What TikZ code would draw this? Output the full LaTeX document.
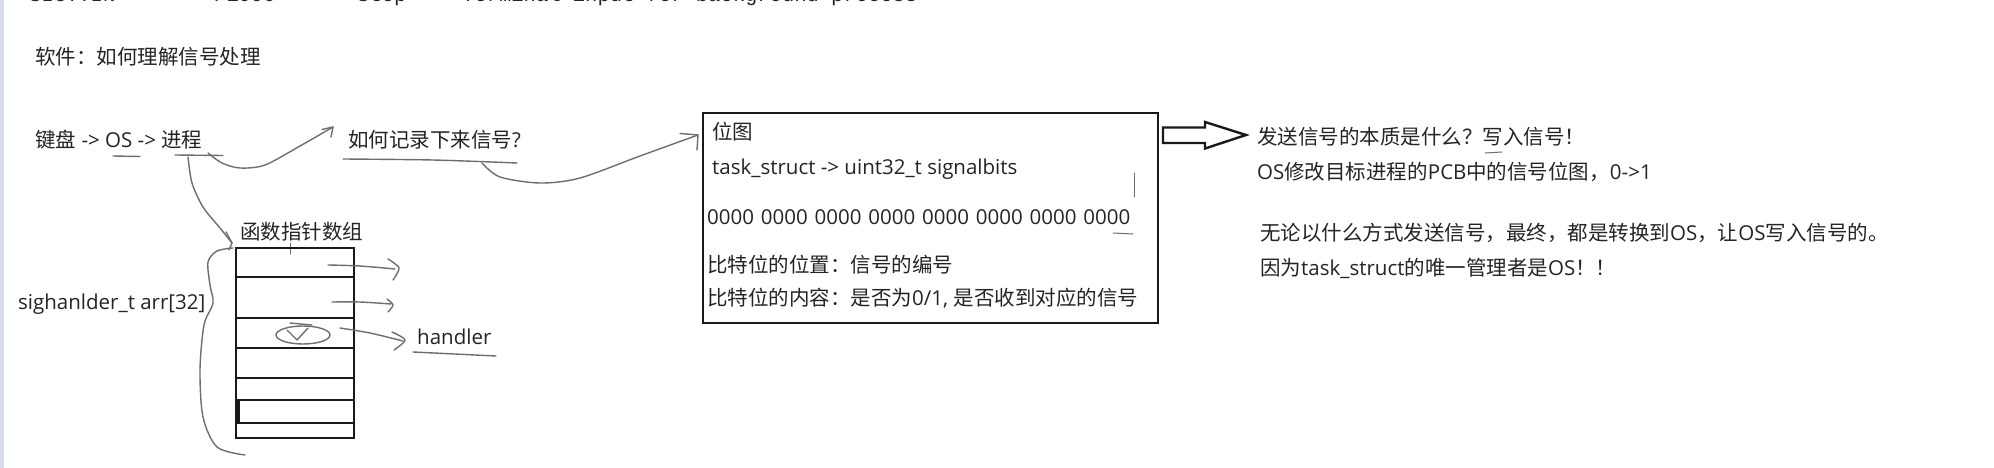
\documentclass[tikz,border=0pt]{standalone}
\usepackage{fontspec}
\setmainfont{Open Sans}
\setmonofont{Liberation Mono}
\newfontfamily\cjk{Noto Sans CJK SC}
\definecolor{textc}{RGB}{36,36,36}
\definecolor{handc}{RGB}{110,110,110}
\definecolor{framec}{RGB}{25,25,25}
\definecolor{stripc}{RGB}{214,220,238}
\begin{document}
\begin{tikzpicture}[x=1pt,y=-1pt,
  txt/.style={anchor=base west, inner sep=0pt, text=textc, font=\fontsize{20.5}{24}\selectfont},
  mono/.style={anchor=base west, inner sep=0pt, text=textc, font=\ttfamily\fontsize{20.5}{24}\selectfont},
  hand/.style={draw=handc, line width=1.4pt, line cap=round, line join=round},
  frame/.style={draw=framec, line width=2.4pt},
  thin/.style={draw=handc, line width=1pt, line cap=round}]
\useasboundingbox (0,0) rectangle (1994,468);
\fill[white] (0,0) rectangle (1994,468);
\fill[stripc] (0,0) rectangle (4,468);
\begin{scope}
\clip (0,0) rectangle (1994,468);
\node[mono] (t1) at (29,2) {SIGTTIN};
\node[mono] (t2) at (214,2) {P1990};
\node[mono] (t3) at (357,2) {Stop};
\node[mono] (t4) at (462,2) {Terminal input for background process};
\end{scope}

% heading
\node[txt] (title) at (35,64.5) {{\cjk 软件：如何理解信号处理}};

% first line
\node[txt] (kbd) at (35,147.5) {{\cjk 键盘} -> OS -> {\cjk 进程}};
\node[txt] (rec) at (348,147.5) {{\cjk 如何记录下来信号}?};
\draw[hand] (113,156) -- (140,156.5);
\draw[hand] (175,155) -- (223,155.5);
\draw[hand] plot[smooth] coordinates {(343,159) (433,160) (517,163)};

% arrow kbd -> rec
\coordinate (a1s) at (208,153);
\coordinate (a1e) at (333,127);
\draw[hand] plot[smooth] coordinates {(a1s) (222,163) (240,168) (265,165) (300,146) (a1e)};
\draw[hand] (322,129.5) -- (a1e) -- (331,137);

% arrow rec -> box
\coordinate (a2s) at (482,163);
\coordinate (a2e) at (698,135);
\draw[hand] plot[smooth] coordinates {(a2s) (500,177) (540,183) (580,178) (640,156) (a2e)};
\draw[hand] (680,133.5) -- (a2e) -- (697,150);

% bitmap box
\node[frame, draw, rectangle, minimum width=455pt, minimum height=210pt, inner sep=0pt, anchor=north west] (box) at (702,112) {};
\node[txt] (b1) at (712,139.5) {{\cjk 位图}};
\node[txt] (b2) at (712,174.5) {task\_struct -> uint32\_t signalbits};
\node[txt] (b3) at (707,224.5) {0000\,\,0000\,\,0000\,\,0000\,\,0000\,\,0000\,\,0000\,\,0000};
\node[txt] (b4) at (707,272.5) {{\cjk 比特位的位置：信号的编号}};
\node[txt] (b5) at (707,305.5) {{\cjk 比特位的内容：是否为}0/1, {\cjk 是否收到对应的信号}};
\draw[thin] (1134,173) -- (1134,197);
\draw[thin] (1113,233) -- (1133,234);

% hollow arrow
\draw[frame, line join=miter] (1163,127.5) -- (1205,127.5) -- (1205,122) -- (1246,135) -- (1205,148.5) -- (1205,143) -- (1163,143) -- cycle;

% right text
\node[txt] (r1) at (1257,144.5) {{\cjk 发送信号的本质是什么？写入信号！}};
\draw[thin] (1485,153) -- (1502,152);
\node[txt] (r2) at (1257,179.5) {OS{\cjk 修改目标进程的}PCB{\cjk 中的信号位图，}0->1};
\node[txt] (r3) at (1260,240.5) {{\cjk 无论以什么方式发送信号，最终，都是转换到}OS{\cjk ，让}OS{\cjk 写入信号的。}};
\node[txt] (r4) at (1260,275.5) {{\cjk 因为}task\_struct{\cjk 的唯一管理者是}OS{\cjk ！！}};

% function pointer array
\node[txt] (fa) at (240,239.5) {{\cjk 函数指针数组}};
\draw[thin] (290,243) -- (290,254);
\draw[thin] (285,248) -- (295,248);
\node[frame, draw, rectangle, minimum width=118pt, minimum height=190pt, inner sep=0pt, anchor=north west] (arr) at (235,247) {};
\foreach \yy in {277,318,348,378,400,423}
  \draw[frame] (235,\yy) -- (353,\yy);
\draw[framec, line width=3.5pt] (238,401) -- (238,422);
\node[txt] (sig) at (18,309.5) {sighanlder\_t arr[32]};

% line from process to array
\coordinate (a3s) at (188,157);
\coordinate (a3e) at (232,243);
\draw[hand] plot[smooth] coordinates {(a3s) (192,183) (203,207) (220,228) (a3e)};
\draw[hand] (226,232) -- (a3e) -- (229,250);

% brace
\draw[hand] plot[smooth] coordinates {(233,248) (217,251) (208,262) (210,285) (213,303) (204,325) (200,370) (203,417) (217,447) (245,455)};

% row arrows
\draw[hand] plot[smooth] coordinates {(328,265) (360,266) (395,269)};
\draw[hand] plot[smooth] coordinates {(388,259) (399,268) (393,280)};
\draw[hand] plot[smooth] coordinates {(332,302) (360,302) (391,304)};
\draw[hand] plot[smooth] coordinates {(387,299) (393,305) (388,312)};
\draw[hand] plot[smooth] coordinates {(340,328) (370,333) (403,341)};
\draw[hand] plot[smooth] coordinates {(392,332) (405,340) (394,350)};

% oval mark
\draw[hand] (303,335) ellipse [x radius=27, y radius=9];
\draw[hand] (287,330) -- (297,340) -- (308,328);
\draw[hand] (290,323) -- (312,325);

% handler
\node[txt] (hd) at (417,344.5) {handler};
\draw[hand] (413,352) -- (496,356);
\end{tikzpicture}
\end{document}
